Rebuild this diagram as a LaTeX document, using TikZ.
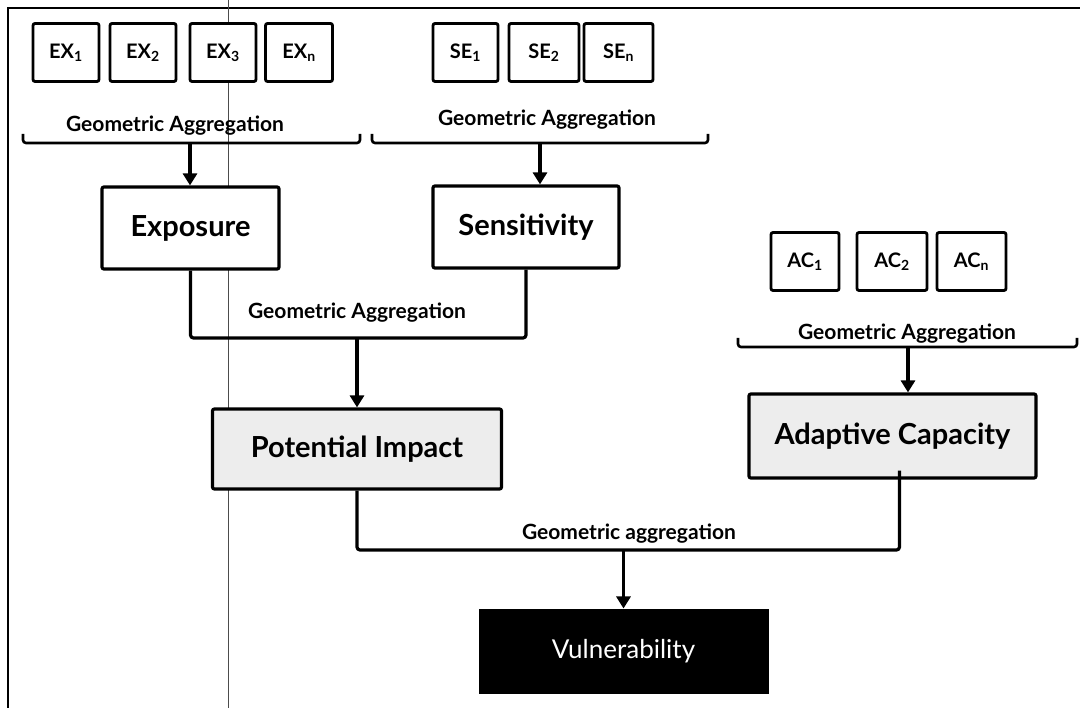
\documentclass[tikz,border=0pt]{standalone}
\usepackage{fontspec}
\setmainfont{Lato}
\usetikzlibrary{arrows.meta}
\begin{document}
\begin{tikzpicture}[x=1pt,y=-1pt,
  every node/.style={inner sep=0pt},
  small/.style={draw=black, line width=2.8pt, rounded corners=2pt, fill=white,
    minimum height=58pt, font=\fontsize{20}{20}\selectfont\bfseries},
  big/.style={draw=black, line width=3.2pt, rounded corners=2pt, fill=white,
    minimum height=82pt, font=\fontsize{29}{29}\selectfont\bfseries},
  grainy/.style={big, fill=black!7},
  result/.style={draw=black, line width=3pt, fill=black, text=white,
    minimum height=82pt, font=\fontsize{26}{26}\selectfont},
  agg/.style={font=\fontsize{21}{21}\selectfont\bfseries},
  brace/.style={line width=2.6pt, rounded corners=3pt},
  link/.style={line width=3.2pt},
  flow/.style={link, -{Triangle[length=12pt,width=14pt]}}
]
\useasboundingbox (0,0) rectangle (1080,708);

% page frame and fold line
\draw[line width=2.4pt] (8,708) -- (8,8) -- (1080,8);
\draw[line width=0.9pt, black!70] (228,0) -- (228,708);

% exposure indicators
\node[small, minimum width=66pt] (ex1) at (66,52.5) {EX\textsubscript{1}};
\node[small, minimum width=66pt] (ex2) at (143,52.5) {EX\textsubscript{2}};
\node[small, minimum width=66pt] (ex3) at (223,52.5) {EX\textsubscript{3}};
\node[small, minimum width=67pt] (exn) at (299,52.5) {EX\textsubscript{n}};

% sensitivity indicators
\node[small, minimum width=65pt] (se1) at (465.5,52.5) {SE\textsubscript{1}};
\node[small, minimum width=70pt] (se2) at (544,52.5) {SE\textsubscript{2}};
\node[small, minimum width=69pt] (sen) at (618.5,52.5) {SE\textsubscript{n}};

% adaptive capacity indicators
\node[small, minimum width=68pt] (ac1) at (805,261.5) {AC\textsubscript{1}};
\node[small, minimum width=70pt] (ac2) at (892,261.5) {AC\textsubscript{2}};
\node[small, minimum width=69pt] (acn) at (971.5,261.5) {AC\textsubscript{n}};

% components
\node[big, minimum width=177pt] (exp) at (190.5,228) {Exposure};
\node[big, minimum width=186pt] (sens) at (526,227) {Sensitivity};
\node[grainy, minimum width=289pt, minimum height=80pt] (pot) at (357,449) {Potential Impact};
\node[grainy, minimum width=287pt, minimum height=84pt] (adapt) at (892.5,436) {Adaptive Capacity};
\node[result, minimum width=287pt] (vul) at (623.5,651) {Vulnerability};

% aggregation labels
\node[agg] (g1) at (175,126) {Geometric Aggregation};
\node[agg] (g2) at (547,120) {Geometric Aggregation};
\node[agg] (g3) at (357,313) {Geometric Aggregation};
\node[agg] (g4) at (907,334) {Geometric Aggregation};
\node[agg] (g5) at (629,534) {Geometric aggregation};

% brace joints
\coordinate (b1) at (190,143);
\coordinate (b2) at (540,143);
\coordinate (b3) at (908,347);
\coordinate (m1) at (357,338);
\coordinate (m2) at (623.5,550);

% indicator braces
\draw[brace] (23,134) -- (23,143) -- (360,143) -- (360,134);
\draw[brace] (372,134) -- (372,143) -- (708,143) -- (708,134);
\draw[brace] (738,338) -- (738,347) -- (1077,347) -- (1077,338);

\draw[flow] (b1) -- (b1 |- exp.north);
\draw[flow] (b2) -- (b2 |- sens.north);
\draw[flow] (b3) -- (b3 |- adapt.north);

% component aggregation
\draw[link, rounded corners=3pt] (exp.south) |- (m1) -| (sens.south);
\draw[flow] (m1) -- (pot.north);
\draw[link, rounded corners=3pt] (pot.south) |- (m2) -| ([xshift=7pt,yshift=9pt]adapt.south);
\draw[flow] (m2) -- (vul.north);
\end{tikzpicture}
\end{document}
